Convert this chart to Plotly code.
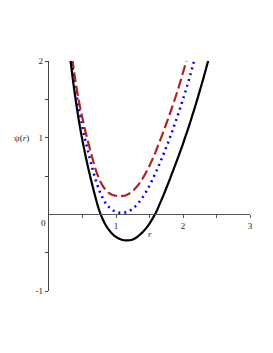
import plotly.graph_objects as go

r_black = [0.30, 0.35, 0.40, 0.45, 0.50, 0.55, 0.60, 0.65, 0.70, 0.75, 0.80, 0.85, 0.90, 0.95,
           1.00, 1.05, 1.10, 1.15, 1.20, 1.25, 1.30, 1.35, 1.40, 1.45, 1.50, 1.55, 1.60, 1.65,
           1.70, 1.75, 1.80, 1.85, 1.90, 1.95, 2.00, 2.05, 2.10, 2.15, 2.20, 2.25, 2.30, 2.35, 2.40]
psi_black = [2.17, 1.80, 1.48, 1.20, 0.96, 0.745, 0.55, 0.37, 0.20, 0.05, -0.06, -0.145, -0.21, -0.26,
             -0.295, -0.32, -0.335, -0.34, -0.338, -0.328, -0.305, -0.27, -0.23, -0.18, -0.12, -0.05, 0.03, 0.13,
             0.23, 0.34, 0.45, 0.565, 0.68, 0.80, 0.92, 1.05, 1.18, 1.32, 1.46, 1.61, 1.76, 1.92, 2.08]

r_red = [0.30, 0.35, 0.40, 0.45, 0.50, 0.55, 0.60, 0.65, 0.70, 0.75, 0.80, 0.85, 0.90, 0.95,
         1.00, 1.05, 1.10, 1.15, 1.20, 1.25, 1.30, 1.35, 1.40, 1.45, 1.50, 1.55, 1.60, 1.65,
         1.70, 1.75, 1.80, 1.85, 1.90, 1.95, 2.00, 2.05, 2.10]
psi_red = [2.40, 2.02, 1.71, 1.46, 1.25, 1.06, 0.89, 0.725, 0.575, 0.46, 0.375, 0.315, 0.275, 0.252,
           0.242, 0.238, 0.24, 0.25, 0.272, 0.305, 0.35, 0.405, 0.47, 0.55, 0.635, 0.73, 0.835, 0.945,
           1.06, 1.18, 1.30, 1.43, 1.56, 1.70, 1.85, 2.00, 2.16]

r_blue = [0.30, 0.35, 0.40, 0.45, 0.50, 0.55, 0.60, 0.65, 0.70, 0.75, 0.80, 0.85, 0.90, 0.95,
          1.00, 1.05, 1.10, 1.15, 1.20, 1.25, 1.30, 1.35, 1.40, 1.45, 1.50, 1.55, 1.60, 1.65,
          1.70, 1.75, 1.80, 1.85, 1.90, 1.95, 2.00, 2.05, 2.10, 2.15, 2.20]
psi_blue = [2.30, 1.93, 1.62, 1.36, 1.14, 0.94, 0.76, 0.59, 0.44, 0.315, 0.215, 0.14, 0.09, 0.055,
            0.033, 0.022, 0.02, 0.027, 0.045, 0.075, 0.115, 0.165, 0.225, 0.295, 0.375, 0.465, 0.56, 0.66,
            0.765, 0.875, 0.99, 1.11, 1.235, 1.365, 1.50, 1.64, 1.79, 1.95, 2.11]

x_tickvals = [0.5, 1, 1.5, 2, 2.5, 3]
x_ticktext = ["", "1", "", "2", "", "3"]
y_tickvals = [-1, -0.5, 0.5, 1, 1.5, 2]
y_ticktext = ["-1", "", "", "1", "", "2"]

serif = "Liberation Serif, DejaVu Serif, serif"

fig = go.Figure()
fig.add_trace(go.Scatter(x=r_blue, y=psi_blue, mode="lines", line_shape="spline",
                         line=dict(color="#0000FF", width=2.5, dash="2px,4px")))
fig.add_trace(go.Scatter(x=r_red, y=psi_red, mode="lines", line_shape="spline",
                         line=dict(color="#B22222", width=2.2, dash="10px,4px")))
fig.add_trace(go.Scatter(x=r_black, y=psi_black, mode="lines", line_shape="spline",
                         line=dict(color="#000000", width=2.2)))

fig.update_layout(
    width=265, height=345,
    margin=dict(l=41, r=23, t=53, b=62),
    paper_bgcolor="white", plot_bgcolor="white",
    showlegend=False,
    font=dict(family=serif, size=9, color="#222"),
    xaxis=dict(range=[0, 3], showgrid=False, zeroline=False,
               showline=True, linecolor="#555", linewidth=1.2,
               anchor="free", position=1/3,
               ticks="outside", ticklen=3, tickcolor="#555",
               tickvals=x_tickvals, ticktext=x_ticktext,
               tickfont=dict(family=serif, size=9, color="#222")),
    yaxis=dict(range=[-1, 2], showgrid=False, zeroline=False,
               showline=True, linecolor="#444", linewidth=1.2,
               ticks="outside", ticklen=3, tickcolor="#444",
               tickvals=y_tickvals, ticktext=y_ticktext,
               tickfont=dict(family=serif, size=9, color="#222")),
    annotations=[
        dict(x=0, y=0, xref="x", yref="y", text="0", showarrow=False,
             xanchor="right", yanchor="top", xshift=-1, yshift=-2,
             font=dict(family=serif, size=9, color="#222")),
        dict(x=1.5, y=-0.26, xref="x", yref="y", text="<i>r</i>", showarrow=False,
             font=dict(family=serif, size=9, color="#222")),
        dict(x=0, y=1, xref="x", yref="y", text="ψ(<i>r</i>)", showarrow=False,
             xanchor="right", xshift=-18,
             font=dict(family=serif, size=9, color="#222")),
    ],
)

fig.write_html("out.html")
